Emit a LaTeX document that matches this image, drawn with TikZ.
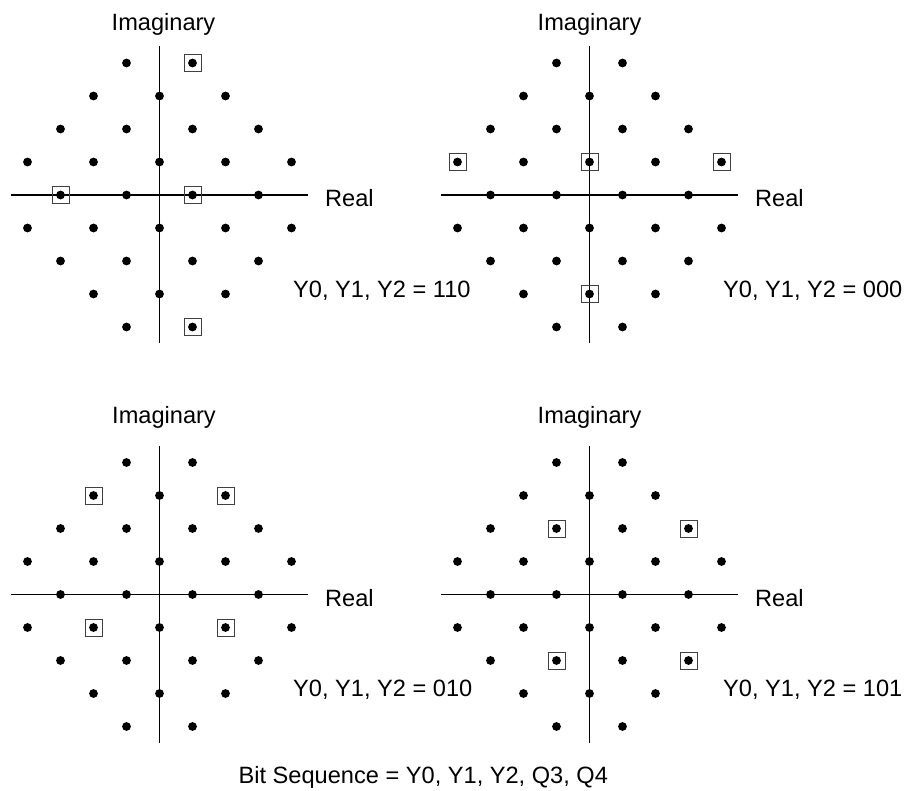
\documentclass[tikz,border=0pt]{standalone}
\usepackage{fontspec}
\setmainfont{Liberation Sans}
\tikzset{
  axisline/.style={line width=1.1pt, black},
  dotst/.style={fill=black},
  boxst/.style={draw=black!75, line width=0.9pt},
  lbl/.style={inner sep=0pt, font=\fontsize{23.6}{28}\selectfont},
}
\newcommand\qamconst[3]{%
  \begin{scope}[shift={(#1,#2)}]
    \draw[axisline] (-148.5,0) -- (148.5,0);
    \draw[axisline] (0,-148.5) -- (0,148.5);
    \foreach \i in {-4,...,4}{
      \foreach \j in {-4,...,4}{
        \pgfmathtruncatemacro\ok{and(mod(abs(\i+\j),2)==1, abs(\i)+abs(\j)<=5)}
        \ifnum\ok=1 \fill[dotst] (\i*33,-\j*33) circle (4.4pt);\fi
      }
    }
    \foreach \a/\b in {#3}{
      \draw[boxst] (\a*33-8.5,-\b*33-8.5) rectangle (\a*33+8.5,-\b*33+8.5);
    }
  \end{scope}}
\begin{document}
\begin{tikzpicture}[x=1pt,y=-1pt]
  \useasboundingbox (0,0) rectangle (908,791);
  \qamconst{159.5}{195}{1/4,-3/0,1/0,1/-4}
  \qamconst{589.5}{195}{-4/1,0/1,4/1,0/-3}
  \qamconst{159.5}{594.5}{-2/3,2/3,-2/-1,2/-1}
  \qamconst{589.5}{594.5}{-1/2,3/2,-1/-2,3/-2}
  % labels
  \node[lbl, anchor=base] (im1) at (163.5,31) {Imaginary};
  \node[lbl, anchor=base] (im2) at (589.5,31) {Imaginary};
  \node[lbl, anchor=base] (im3) at (164,423.3) {Imaginary};
  \node[lbl, anchor=base] (im4) at (589.5,423.3) {Imaginary};
  \node[lbl, anchor=base west] (re1) at (325,207) {Real};
  \node[lbl, anchor=base west] (re2) at (755,207) {Real};
  \node[lbl, anchor=base west] (re3) at (325,606) {Real};
  \node[lbl, anchor=base west] (re4) at (755,606) {Real};
  \node[lbl, anchor=base west] (y1) at (293,298) {Y0, Y1, Y2 = 110};
  \node[lbl, anchor=base west] (y2) at (723,298) {Y0, Y1, Y2 = 000};
  \node[lbl, anchor=base west] (y3) at (293,696.7) {Y0, Y1, Y2 = 010};
  \node[lbl, anchor=base west] (y4) at (723,696.7) {Y0, Y1, Y2 = 101};
  \node[lbl, anchor=base] (bits) at (423.3,783) {Bit Sequence = Y0, Y1, Y2, Q3, Q4};
\end{tikzpicture}
\end{document}
